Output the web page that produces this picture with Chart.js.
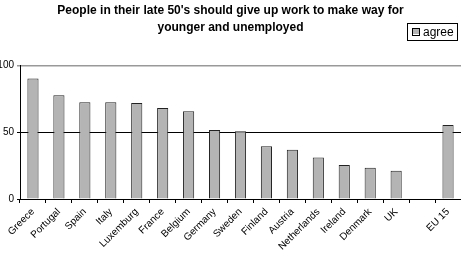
<!DOCTYPE html>
<html lang="en">
<head>
    <meta charset="UTF-8">
    <title>Late 50's should give up work</title>
    <script src="https://cdn.jsdelivr.net/npm/chart.js"></script>
    <style>
        html, body { margin: 0; padding: 0; background: #fff; }
        #wrap { width: 461px; height: 253px; }
    </style>
</head>
<body>
    <div id="wrap">
        <canvas id="agreeChart" width="461" height="253"></canvas>
    </div>

    <script>
        const countries = ['Greece', 'Portugal', 'Spain', 'Italy', 'Luxemburg', 'France', 'Belgium',
            'Germany', 'Sweden', 'Finland', 'Austria', 'Netherlands', 'Ireland', 'Denmark', 'UK', '', 'EU 15'];
        const agree = [90.4, 77.8, 72.6, 72.6, 72, 68.3, 65.8, 51.7, 50.7, 39.5, 37, 31.2, 25.4, 23.4, 21.2, null, 55.5];
        const yTicks = [0, 50, 100];
        const titleLines = ["People in their late 50's should give up work to make way for", 'younger and unemployed'];

        const FONT = "'Liberation Sans', Arial, sans-serif";

        // legend with a box round it, drawn at the top right like the original
        const boxLegend = {
            id: 'boxLegend',
            afterDraw(chart) {
                const ds = chart.data.datasets[0];
                const c = chart.ctx;
                c.save();
                c.font = '12px ' + FONT;
                const x = 407, y = 23, w = 50, h = 17;
                c.fillStyle = '#fff';
                c.fillRect(x, y, w, h);
                c.strokeStyle = '#000';
                c.lineWidth = 1;
                c.strokeRect(x + 0.5, y + 0.5, w, h);
                c.fillStyle = ds.backgroundColor;
                c.fillRect(x + 6, y + 5, 6, 6);
                c.strokeRect(x + 5.5, y + 5.5, 7, 7);
                c.fillStyle = '#000';
                c.textBaseline = 'middle';
                c.fillText(ds.label, x + 16, y + h / 2 + 1);
                c.restore();
            }
        };

        const ctx = document.getElementById('agreeChart').getContext('2d');
        new Chart(ctx, {
            type: 'bar',
            data: {
                labels: countries,
                datasets: [{
                    label: 'agree',
                    data: agree,
                    backgroundColor: '#b4b4b4',
                    borderColor: '#222',
                    borderWidth: 1,
                    categoryPercentage: 1,
                    barPercentage: 0.43
                }]
            },
            options: {
                responsive: false,
                animation: false,
                layout: { padding: { top: 0, right: 0, left: 0, bottom: 0 } },
                plugins: {
                    legend: { display: false },
                    tooltip: { enabled: false },
                    title: {
                        display: true,
                        text: titleLines,
                        color: '#000',
                        font: { family: FONT, size: 12, weight: 'bold', lineHeight: 1.4 },
                        padding: { top: 2, bottom: 30 }
                    }
                },
                scales: {
                    x: {
                        offset: true,
                        afterFit(scale) { scale.height = 54; },
                        grid: { offset: true, drawOnChartArea: false, drawTicks: true, tickLength: 4, color: '#000' },
                        border: { color: '#000', width: 1 },
                        ticks: {
                            autoSkip: false,
                            minRotation: 45,
                            maxRotation: 45,
                            padding: 3,
                            color: '#000',
                            font: { family: FONT, size: 10 }
                        }
                    },
                    y: {
                        min: 0,
                        max: 100,
                        afterFit(scale) { scale.width = 20; },
                        afterBuildTicks(scale) { scale.ticks = yTicks.map(v => ({ value: v })); },
                        grid: {
                            color: c => c.tick && c.tick.value === 100 ? '#999' : '#000',
                            lineWidth: c => c.tick && c.tick.value === 100 ? 1.5 : 1,
                            tickLength: 3
                        },
                        border: { color: '#000', width: 1 },
                        ticks: {
                            padding: 3,
                            color: '#000',
                            font: { family: FONT, size: 10 }
                        }
                    }
                }
            },
            plugins: [boxLegend]
        });
    </script>
</body>
</html>
